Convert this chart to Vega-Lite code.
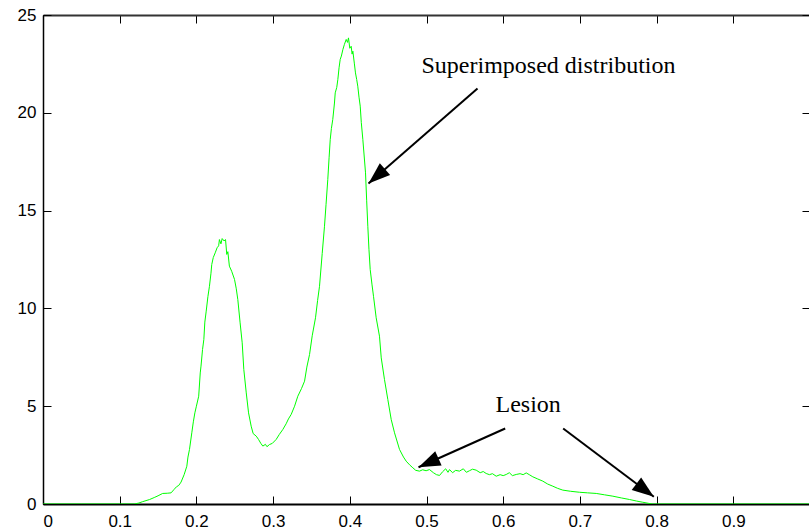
{
  "$schema": "https://vega.github.io/schema/vega-lite/v6.json",
  "width": 767,
  "height": 489,
  "autosize": "none",
  "padding": {"left": 43, "top": 15, "right": 0, "bottom": 28},
  "background": "white",
  "config": {
    "view": {"stroke": "black", "strokeWidth": 1},
    "axis": {
      "labelFont": "Liberation Sans",
      "labelFontSize": 17,
      "labelColor": "black",
      "tickColor": "black",
      "domain": false,
      "grid": false,
      "title": null
    }
  },
  "datasets": {
    "curve": [
      {"x":0,"y":0},{"x":0.05,"y":0},{"x":0.1,"y":0},{"x":0.119,"y":0},{"x":0.125,"y":0.05},{"x":0.13,"y":0.12},
      {"x":0.139,"y":0.23},{"x":0.145,"y":0.33},{"x":0.15,"y":0.42},{"x":0.156,"y":0.54},{"x":0.162,"y":0.55},
      {"x":0.167,"y":0.57},{"x":0.171,"y":0.75},{"x":0.174,"y":0.88},{"x":0.177,"y":0.95},{"x":0.18,"y":1.12},
      {"x":0.184,"y":1.5},{"x":0.1875,"y":1.93},{"x":0.189,"y":2.4},{"x":0.191,"y":2.79},{"x":0.194,"y":3.64},
      {"x":0.196,"y":4.2},{"x":0.198,"y":4.66},{"x":0.2,"y":5.0},{"x":0.203,"y":5.51},{"x":0.205,"y":6.7},
      {"x":0.206,"y":7.05},{"x":0.208,"y":7.9},{"x":0.2097,"y":8.41},{"x":0.211,"y":9.3},{"x":0.2128,"y":9.86},
      {"x":0.215,"y":10.6},{"x":0.217,"y":11.13},{"x":0.219,"y":11.8},{"x":0.22,"y":12.24},{"x":0.222,"y":12.6},
      {"x":0.2245,"y":12.84},{"x":0.227,"y":13.1},{"x":0.229,"y":13.2},{"x":0.23,"y":13.52},{"x":0.232,"y":13.3},
      {"x":0.2336,"y":13.57},{"x":0.236,"y":13.45},{"x":0.238,"y":13.52},{"x":0.2396,"y":12.76},{"x":0.241,"y":12.9},
      {"x":0.243,"y":12.16},{"x":0.246,"y":11.9},{"x":0.2497,"y":11.48},{"x":0.252,"y":11.0},{"x":0.254,"y":10.45},
      {"x":0.257,"y":9.26},{"x":0.2597,"y":8.24},{"x":0.2618,"y":6.88},{"x":0.265,"y":5.68},{"x":0.268,"y":4.66},
      {"x":0.2714,"y":3.98},{"x":0.274,"y":3.6},{"x":0.278,"y":3.47},{"x":0.281,"y":3.3},{"x":0.284,"y":3.1},
      {"x":0.2866,"y":2.96},{"x":0.29,"y":3.05},{"x":0.292,"y":2.93},{"x":0.2953,"y":3.04},{"x":0.299,"y":3.1},
      {"x":0.304,"y":3.3},{"x":0.308,"y":3.55},{"x":0.3127,"y":3.81},{"x":0.317,"y":4.1},{"x":0.32,"y":4.35},
      {"x":0.3236,"y":4.58},{"x":0.328,"y":5.0},{"x":0.3322,"y":5.51},{"x":0.337,"y":5.9},{"x":0.341,"y":6.28},
      {"x":0.344,"y":7.0},{"x":0.3475,"y":7.64},{"x":0.351,"y":8.6},{"x":0.3553,"y":9.52},{"x":0.358,"y":10.4},
      {"x":0.3605,"y":11.13},{"x":0.364,"y":12.8},{"x":0.367,"y":14.2},{"x":0.369,"y":15.3},{"x":0.3713,"y":16.59},
      {"x":0.373,"y":17.7},{"x":0.3745,"y":18.64},{"x":0.376,"y":19.2},{"x":0.3778,"y":19.66},{"x":0.38,"y":20.5},
      {"x":0.381,"y":21.02},{"x":0.383,"y":21.3},{"x":0.3844,"y":21.7},{"x":0.386,"y":22.3},{"x":0.3875,"y":22.73},
      {"x":0.389,"y":22.9},{"x":0.391,"y":23.24},{"x":0.393,"y":23.5},{"x":0.3953,"y":23.75},{"x":0.397,"y":23.6},
      {"x":0.3983,"y":23.83},{"x":0.4,"y":23.3},{"x":0.4018,"y":23.4},{"x":0.403,"y":23.0},{"x":0.404,"y":23.15},
      {"x":0.406,"y":22.5},{"x":0.4074,"y":22.04},{"x":0.409,"y":21.7},{"x":0.4104,"y":21.36},{"x":0.412,"y":20.8},
      {"x":0.4136,"y":20.34},{"x":0.415,"y":19.5},{"x":0.417,"y":18.64},{"x":0.4205,"y":16.93},{"x":0.422,"y":15.5},
      {"x":0.4235,"y":14.2},{"x":0.425,"y":13.0},{"x":0.4266,"y":11.99},{"x":0.429,"y":11.2},{"x":0.4309,"y":10.62},
      {"x":0.4344,"y":9.52},{"x":0.4387,"y":8.58},{"x":0.441,"y":7.47},{"x":0.4452,"y":6.37},{"x":0.4496,"y":5.34},
      {"x":0.454,"y":4.32},{"x":0.4583,"y":3.64},{"x":0.4648,"y":2.79},{"x":0.47,"y":2.4},{"x":0.4735,"y":2.19},
      {"x":0.478,"y":2.0},{"x":0.4822,"y":1.85},{"x":0.486,"y":1.72},{"x":0.4909,"y":1.68},{"x":0.495,"y":1.75},
      {"x":0.4995,"y":1.7},{"x":0.5039,"y":1.76},{"x":0.509,"y":1.6},{"x":0.513,"y":1.5},{"x":0.517,"y":1.46},
      {"x":0.521,"y":1.65},{"x":0.525,"y":1.8},{"x":0.528,"y":1.62},{"x":0.53,"y":1.76},{"x":0.534,"y":1.6},
      {"x":0.538,"y":1.72},{"x":0.543,"y":1.68},{"x":0.548,"y":1.8},{"x":0.552,"y":1.62},{"x":0.556,"y":1.7},
      {"x":0.56,"y":1.78},{"x":0.5648,"y":1.73},{"x":0.57,"y":1.6},{"x":0.574,"y":1.66},{"x":0.5778,"y":1.56},
      {"x":0.582,"y":1.5},{"x":0.586,"y":1.55},{"x":0.5909,"y":1.42},{"x":0.596,"y":1.5},{"x":0.6,"y":1.45},
      {"x":0.604,"y":1.51},{"x":0.608,"y":1.6},{"x":0.612,"y":1.45},{"x":0.617,"y":1.51},{"x":0.622,"y":1.55},
      {"x":0.626,"y":1.5},{"x":0.63,"y":1.59},{"x":0.634,"y":1.5},{"x":0.6386,"y":1.39},{"x":0.645,"y":1.28},
      {"x":0.6516,"y":1.17},{"x":0.658,"y":1.02},{"x":0.6647,"y":0.91},{"x":0.671,"y":0.8},{"x":0.6777,"y":0.71},
      {"x":0.688,"y":0.65},{"x":0.6995,"y":0.6},{"x":0.71,"y":0.57},{"x":0.7213,"y":0.54},{"x":0.732,"y":0.47},
      {"x":0.743,"y":0.4},{"x":0.754,"y":0.31},{"x":0.7647,"y":0.23},{"x":0.774,"y":0.15},{"x":0.782,"y":0.09},
      {"x":0.79,"y":0.03},{"x":0.795,"y":0},{"x":0.85,"y":0},{"x":0.9,"y":0},{"x":1.0,"y":0}
    ],
    "arrows": [
      {"x":0.5665,"y":21.24,"x2":0.4244,"y2":16.39,"heading":229},
      {"x":0.6026,"y":3.86,"x2":0.4896,"y2":1.88,"heading":246},
      {"x":0.6782,"y":3.86,"x2":0.7964,"y2":0.37,"heading":127}
    ],
    "notes": [
      {"x":0.4935,"y":22.06,"label":"Superimposed distribution"},
      {"x":0.59,"y":4.68,"label":"Lesion"}
    ]
  },
  "resolve": {"axis": {"x": "independent", "y": "independent"}},
  "layer": [
    {
      "data": {"name": "curve"},
      "mark": {"type": "line", "color": "#00ff00", "strokeWidth": 1, "clip": true},
      "encoding": {
        "x": {"field": "x", "type": "quantitative",
              "scale": {"domain": [0, 1], "nice": false, "zero": false},
              "axis": {"orient": "bottom", "values": [0,0.1,0.2,0.3,0.4,0.5,0.6,0.7,0.8,0.9], "format": ".1~f", "tickSize": -8, "labelPadding": 17, "labelAngle": 0, "domain": true, "domainColor": "black", "domainWidth": 2}},
        "y": {"field": "y", "type": "quantitative",
              "scale": {"domain": [0, 25], "nice": false},
              "axis": {"orient": "left", "values": [0,5,10,15,20,25], "tickSize": -8, "labelPadding": 15, "domain": true, "domainColor": "black", "domainWidth": 1.5}}
      }
    },
    {
      "data": {"name": "arrows"},
      "mark": {"type": "rule", "color": "black", "strokeWidth": 2},
      "encoding": {
        "x": {"field": "x", "type": "quantitative",
              "axis": {"orient": "top", "values": [0,0.1,0.2,0.3,0.4,0.5,0.6,0.7,0.8,0.9], "labels": false, "tickSize": -8, "domain": true, "domainColor": "#333333", "domainWidth": 2}},
        "y": {"field": "y", "type": "quantitative",
              "axis": {"orient": "right", "values": [0,5,10,15,20,25], "labels": false, "tickSize": -8}},
        "x2": {"field": "x2"},
        "y2": {"field": "y2"}
      }
    },
    {
      "data": {"name": "arrows"},
      "mark": {"type": "point", "shape": "M0,0L-0.36,1L0.36,1Z", "filled": true, "color": "black", "opacity": 1, "size": 1900},
      "encoding": {
        "x": {"field": "x2", "type": "quantitative", "axis": null},
        "y": {"field": "y2", "type": "quantitative", "axis": null},
        "angle": {"field": "heading", "type": "quantitative", "scale": null}
      }
    },
    {
      "data": {"name": "notes"},
      "mark": {"type": "text", "font": "Liberation Serif", "fontSize": 24, "color": "black", "align": "left", "baseline": "alphabetic"},
      "encoding": {
        "x": {"field": "x", "type": "quantitative", "axis": null},
        "y": {"field": "y", "type": "quantitative", "axis": null},
        "text": {"field": "label"}
      }
    }
  ]
}
